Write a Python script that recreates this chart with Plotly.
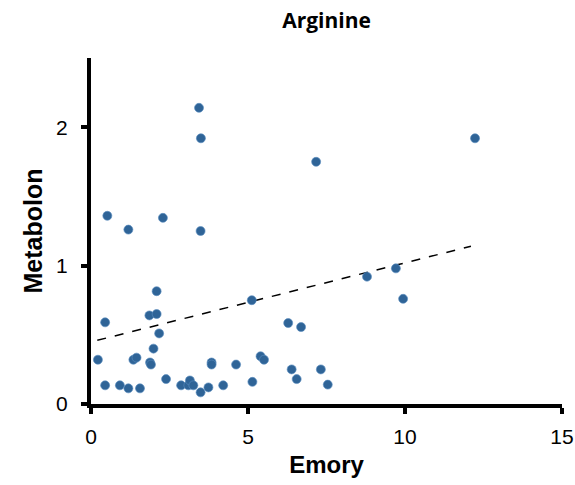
import plotly.graph_objects as go

emory = [0.22, 0.45, 0.52, 0.45, 0.92, 1.19, 1.19, 1.35, 1.45, 1.56,
         1.86, 2.09, 2.09, 2.17, 1.99, 1.88, 1.91, 2.29, 2.39, 2.87,
         3.10, 3.15, 3.26, 3.44, 3.50, 3.49, 3.49, 3.74, 3.84, 3.84,
         4.21, 4.62, 5.12, 5.14, 5.40, 5.51, 6.28, 6.39, 6.55, 6.69,
         7.17, 7.32, 7.54, 8.79, 9.71, 9.94, 12.23]
metabolon = [0.32, 0.135, 1.36, 0.59, 0.135, 1.26, 0.113, 0.32, 0.335, 0.113,
             0.64, 0.65, 0.815, 0.51, 0.40, 0.30, 0.285, 1.345, 0.18, 0.135,
             0.135, 0.17, 0.135, 2.14, 1.92, 1.25, 0.084, 0.12, 0.30, 0.285,
             0.135, 0.285, 0.75, 0.16, 0.345, 0.32, 0.585, 0.25, 0.18, 0.556,
             1.75, 0.25, 0.14, 0.92, 0.98, 0.76, 1.92]

trend_x = [0.2, 12.1]
trend_y = [0.46, 1.14]

x_ticks = [0, 5, 10, 15]
y_ticks = [0, 1, 2]

fig = go.Figure()
fig.add_trace(go.Scatter(x=trend_x, y=trend_y, mode="lines",
                         line=dict(color="black", width=1.5, dash="dash"),
                         hoverinfo="skip", showlegend=False))
fig.add_trace(go.Scatter(x=emory, y=metabolon, mode="markers",
                         marker=dict(size=9, color="#2F6497",
                                     line=dict(width=0.8, color="rgba(90,140,190,0.8)")),
                         showlegend=False))

fig.update_layout(
    width=575, height=485,
    margin=dict(l=91, r=13, t=58, b=81),
    paper_bgcolor="white", plot_bgcolor="white",
    title=dict(text="<b>Arginine</b>", x=0.5, xref="paper", xanchor="center",
               y=1 - 21 / 485, yref="container", yanchor="middle",
               font=dict(family="Open Sans", size=21, color="black")),
    font=dict(family="Liberation Sans, Arial", color="black"),
)
fig.update_xaxes(range=[0, 15], tickvals=x_ticks, ticktext=[str(v) for v in x_ticks],
                 showline=True, linecolor="black", linewidth=4, automargin=False,
                 ticks="outside", ticklen=6, tickwidth=4, tickcolor="black",
                 ticklabelstandoff=5,
                 showgrid=False, zeroline=False,
                 tickfont=dict(size=21, family="Liberation Sans, Arial"),
                 title=dict(text="<b>Emory</b>", font=dict(size=24, family="Liberation Sans, Arial"),
                            standoff=10))
fig.update_yaxes(range=[0, 2.5], tickvals=y_ticks, ticktext=[str(v) for v in y_ticks],
                 showline=True, linecolor="black", linewidth=4, automargin=False,
                 ticks="outside", ticklen=6, tickwidth=4, tickcolor="black",
                 ticklabelstandoff=9,
                 showgrid=False, zeroline=False,
                 tickfont=dict(size=21, family="Liberation Sans, Arial"),
                 title=dict(text="<b>Metabolon</b>", font=dict(size=25, family="Liberation Sans, Arial"),
                            standoff=7))

fig.write_html("out.html")
